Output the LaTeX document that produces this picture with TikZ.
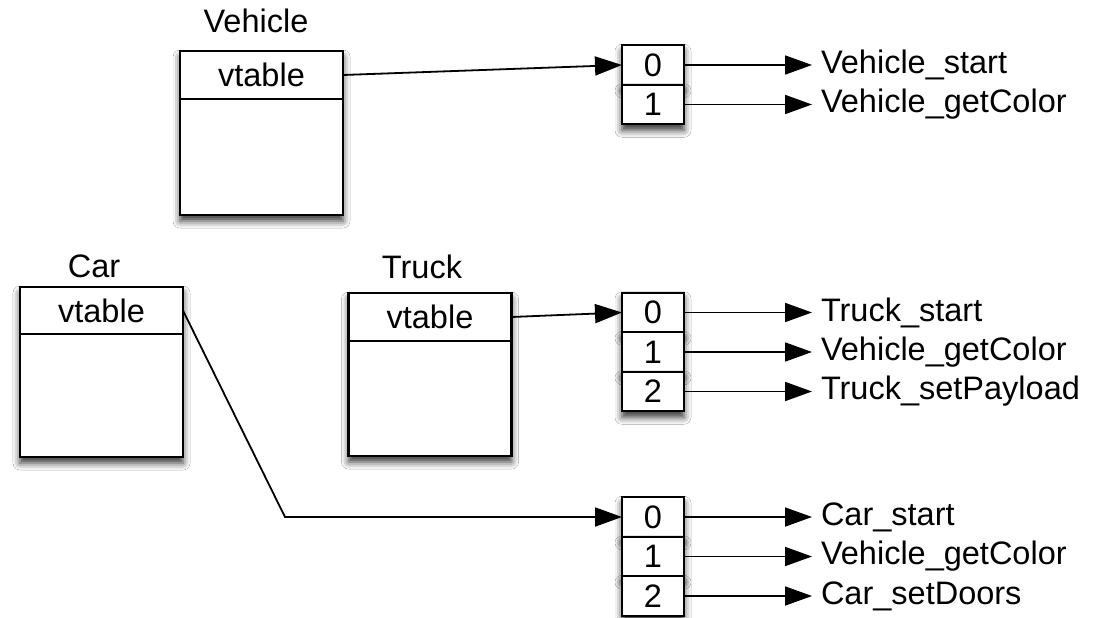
\documentclass[tikz,border=0pt]{standalone}
\usepackage{fontspec}
\setmainfont{Liberation Sans}
\usepackage{tikz}
\usetikzlibrary{arrows.meta, positioning, shadows.blur}

\begin{document}
\begin{tikzpicture}[x=1pt, y=-1pt, font=\fontsize{32.5}{39}\selectfont,
    softshadow/.style={blur shadow={shadow xshift=0pt, shadow yshift=-6pt, shadow blur radius=7pt, shadow opacity=80}},
    classbox/.style={draw, line width=2.3pt, fill=white, minimum width=163pt, inner sep=0pt, outer sep=0pt, softshadow},
    vtbox/.style={draw, line width=2.3pt, minimum width=163pt, minimum height=48pt, inner sep=0pt, outer sep=0pt},
    cell/.style={draw, line width=2.3pt, fill=white, minimum width=62pt, minimum height=39.5pt, inner sep=0pt, outer sep=0pt, softshadow},
    classname/.style={inner sep=0pt, anchor=base},
    fname/.style={inner xsep=9pt, inner ysep=0pt, outer sep=0pt},
    ptr/.style={line width=1.8pt, -{Triangle[length=27pt, width=19pt]}}]
        \path[use as bounding box, fill=white] (0,0) rectangle (1106,618);

        \node[classbox, minimum height=164pt] (vehicle) at (261.5,133) {};
        \node[vtbox, below=0pt of vehicle.north] (vehicle-vt) {vtable};
        \node[classname] (vehicle-name) at (256,33) {Vehicle};

        \node[classbox, minimum height=170pt] (car) at (101.5,372) {};
        \node[vtbox, minimum height=47pt, below=0pt of car.north] (car-vt) {vtable};
        \node[classname] (car-name) at (94,277) {Car};

        \node[classbox, minimum height=163pt] (truck) at (430,374.5) {};
        \node[vtbox, below=0pt of truck.north] (truck-vt) {vtable};
        \node[classname] (truck-name) at (422,278) {Truck};

        \node[cell] (v0) at (653,65) {0};
        \node[cell, below=0pt of v0] (v1) {1};
        \node[fname, right=128pt of v0] (v0-fn) {Vehicle\_start};
        \node[fname, right=128pt of v1] (v1-fn) {Vehicle\_getColor};

        \node[cell] (t0) at (653,312.5) {0};
        \node[cell, below=0pt of t0] (t1) {1};
        \node[cell, below=0pt of t1] (t2) {2};
        \node[fname, right=128pt of t0] (t0-fn) {Truck\_start};
        \node[fname, right=128pt of t1] (t1-fn) {Vehicle\_getColor};
        \node[fname, right=128pt of t2] (t2-fn) {Truck\_setPayload};

        \node[cell] (c0) at (653,517) {0};
        \node[cell, below=0pt of c0] (c1) {1};
        \node[cell, below=0pt of c1] (c2) {2};
        \node[fname, right=128pt of c0] (c0-fn) {Car\_start};
        \node[fname, right=128pt of c1] (c1-fn) {Vehicle\_getColor};
        \node[fname, right=128pt of c2] (c2-fn) {Car\_setDoors};

        \coordinate (car-bend) at (285,517);

        \draw[ptr] (vehicle-vt.east) -- (v0.west);
        \draw[ptr] (truck-vt.east) -- (t0.west);
        \draw[ptr] (car-vt.east) -- (car-bend) -- (c0.west);

        \draw[ptr] (v0.east) -- (v0-fn.west);
        \draw[ptr] (v1.east) -- (v1-fn.west);
        \draw[ptr] (t0.east) -- (t0-fn.west);
        \draw[ptr] (t1.east) -- (t1-fn.west);
        \draw[ptr] (t2.east) -- (t2-fn.west);
        \draw[ptr] (c0.east) -- (c0-fn.west);
        \draw[ptr] (c1.east) -- (c1-fn.west);
        \draw[ptr] (c2.east) -- (c2-fn.west);
        \end{tikzpicture}
\end{document}
